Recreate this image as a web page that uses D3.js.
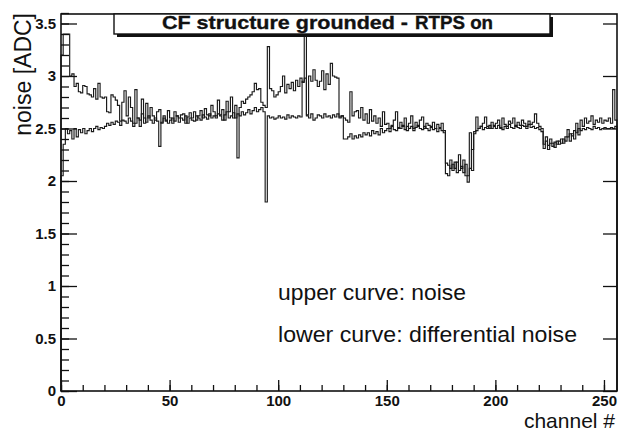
<!DOCTYPE html>
<html><head><meta charset="utf-8">
<script src="https://cdn.jsdelivr.net/npm/d3@7"></script>
<style>
body{margin:0;background:#fff;}
svg{display:block;}
text{font-family:"Liberation Sans",Arial,Helvetica,sans-serif;fill:#111;}
</style></head>
<body>
<svg id="chart" width="619" height="431"></svg>
<script>
// ---- data ----
const channels = d3.range(256);
const xTicksMajor = [0, 50, 100, 150, 200, 250];
const yTicksMajor = [0, 0.5, 1, 1.5, 2, 2.5, 3, 3.5];
const yTickLabels = ["0", "0.5", "1", "1.5", "2", "2.5", "3", "3.5"];
const titleMain = "CF structure grounded -";
const titleSub = "RTPS on";
const xTitle = "channel #";
const yTitle = "noise [ADC]";
const note1 = "upper curve: noise";
const note2 = "lower curve: differential noise";

// upper curve: noise per channel
const noise = [
3.20,3.40,3.40,3.40,3.00,3.02,2.90,2.93,2.85,2.84,
2.91,2.90,2.83,2.82,2.80,2.88,2.78,2.93,2.80,2.79,
2.80,2.66,2.65,2.82,2.80,2.77,2.72,2.57,2.75,2.86,
2.62,2.80,2.70,2.55,2.87,2.60,2.52,2.78,2.55,2.74,
2.60,2.70,2.62,2.58,2.66,2.68,2.55,2.62,2.57,2.67,
2.60,2.55,2.66,2.62,2.60,2.63,2.64,2.55,2.61,2.65,
2.60,2.66,2.58,2.62,2.67,2.60,2.69,2.63,2.62,2.72,
2.66,2.62,2.77,2.63,2.68,2.58,2.76,2.66,2.80,2.60,
2.72,2.22,2.70,2.76,2.74,2.78,2.80,2.82,2.85,2.93,
2.87,2.88,2.75,2.72,2.70,3.28,2.88,2.86,2.80,2.82,
2.85,2.90,3.00,2.84,2.92,2.88,2.94,2.86,2.96,2.90,
2.98,2.94,3.42,2.63,3.00,2.95,3.06,2.96,2.90,2.95,
3.05,2.87,3.02,2.92,3.12,3.00,2.99,2.98,2.61,2.62,
2.60,2.58,2.56,2.85,2.62,2.66,2.67,2.60,2.70,2.58,
2.64,2.55,2.68,2.57,2.62,2.55,2.60,2.52,2.66,2.54,
2.55,2.50,2.53,2.58,2.66,2.50,2.56,2.52,2.60,2.48,
2.55,2.62,2.50,2.56,2.52,2.58,2.61,2.50,2.55,2.53,
2.52,2.56,2.50,2.54,2.51,2.55,2.48,2.07,2.05,2.20,
2.10,2.18,2.08,2.25,2.12,2.20,2.05,1.99,2.46,2.10,
2.47,2.61,2.50,2.52,2.55,2.61,2.52,2.50,2.56,2.53,
2.55,2.58,2.50,2.60,2.54,2.52,2.57,2.55,2.60,2.52,
2.56,2.53,2.58,2.55,2.52,2.57,2.54,2.56,2.64,2.55,
2.52,2.50,2.31,2.42,2.30,2.40,2.36,2.32,2.38,2.35,
2.40,2.36,2.42,2.49,2.38,2.45,2.40,2.55,2.44,2.58,
2.52,2.60,2.55,2.57,2.62,2.54,2.58,2.56,2.60,2.55,
2.58,2.57,2.60,2.55,2.87,2.58];

// lower curve: differential noise per channel
const diffNoise = [
2.05,2.35,2.50,2.45,2.48,2.40,2.50,2.42,2.49,2.46,
2.50,2.45,2.48,2.50,2.47,2.50,2.52,2.49,2.51,2.50,
2.52,2.55,2.53,2.56,2.54,2.57,2.56,2.53,2.58,2.57,
2.55,2.60,2.57,2.52,2.55,2.60,2.58,2.64,2.60,2.56,
2.62,2.58,2.55,2.60,2.57,2.33,2.56,2.60,2.58,2.55,
2.58,2.60,2.57,2.62,2.56,2.60,2.58,2.62,2.55,2.60,
2.58,2.57,2.62,2.60,2.58,2.63,2.61,2.59,2.64,2.60,
2.62,2.60,2.64,2.62,2.58,2.63,2.66,2.60,2.62,2.65,
2.60,2.64,2.62,2.66,2.63,2.65,2.68,2.64,2.67,2.70,
2.66,2.68,2.70,2.66,1.80,2.62,2.60,2.61,2.59,2.60,
2.62,2.60,2.61,2.59,2.63,2.60,2.62,2.61,2.60,2.62,
2.61,2.95,2.98,2.62,2.60,2.64,2.58,2.60,2.63,2.62,
2.60,2.64,2.61,2.62,2.60,2.63,2.61,2.64,2.60,2.62,
2.40,2.40,2.42,2.45,2.40,2.43,2.41,2.44,2.42,2.46,
2.44,2.46,2.43,2.48,2.45,2.47,2.44,2.50,2.46,2.48,
2.50,2.47,2.52,2.49,2.48,2.51,2.50,2.53,2.49,2.52,
2.50,2.52,2.48,2.51,2.53,2.50,2.49,2.52,2.50,2.48,
2.51,2.49,2.50,2.47,2.50,2.48,2.46,2.17,2.15,2.12,
2.16,2.12,2.18,2.10,2.14,2.08,2.16,2.05,2.12,2.30,
2.45,2.48,2.50,2.52,2.49,2.51,2.50,2.53,2.50,2.52,
2.50,2.53,2.51,2.49,2.52,2.50,2.54,2.51,2.50,2.53,
2.51,2.50,2.53,2.52,2.50,2.54,2.51,2.52,2.50,2.51,
2.49,2.47,2.35,2.38,2.34,2.36,2.33,2.37,2.35,2.38,
2.36,2.40,2.38,2.42,2.45,2.43,2.48,2.46,2.50,2.48,
2.50,2.49,2.51,2.50,2.49,2.52,2.50,2.51,2.49,2.50,
2.51,2.50,2.50,2.51,2.50,2.52];

// ---- layout ----
const L = 61, R = 617, T = 13, B = 391;
const svg = d3.select("#chart");
const x = d3.scaleLinear().domain([0, 256]).range([L, R]);
const y = d3.scaleLinear().domain([0, 3.6]).range([B, T]);

// histograms (step outline, ROOT style, starting and ending on baseline)
function stepPoints(vals) {
  const pts = [[0, 0]];
  vals.forEach((v, i) => pts.push([channels[i], v]));
  pts.push([256, vals[vals.length - 1]]);
  pts.push([256, 0]);
  return pts;
}
const line = d3.line().x(d => x(d[0])).y(d => y(d[1])).curve(d3.curveStepAfter);
[diffNoise, noise].forEach(vals => {
  svg.append("path").attr("d", line(stepPoints(vals)))
    .attr("fill", "none").attr("stroke", "#1a1a1a").attr("stroke-width", 1.15);
});

// axes
const yMinor = d3.range(0, 3.61, 0.1).map(v => +v.toFixed(2));
const xMinor = d3.range(0, 257, 10);

function styleAxis(g) {
  g.select(".domain").remove();
  g.selectAll("line").attr("stroke", "#111").attr("stroke-width", 1.3);
  g.selectAll("text").style("font-size", "15px").style("font-weight", "bold")
    .style("font-family", '"Liberation Sans",Arial,Helvetica,sans-serif').attr("fill", "#111");
}

svg.append("g").attr("transform", `translate(${L},0)`)
  .call(d3.axisLeft(y).tickValues(yMinor).tickSize(-8).tickFormat(""))
  .call(styleAxis);
svg.append("g").attr("transform", `translate(${L},0)`)
  .call(d3.axisLeft(y).tickValues(yTicksMajor).tickSize(-16).tickPadding(5)
    .tickFormat((d, i) => yTickLabels[i]))
  .call(styleAxis);
svg.append("g").attr("transform", `translate(${R},0)`)
  .call(d3.axisRight(y).tickValues(yTicksMajor).tickSize(-14).tickFormat(""))
  .call(styleAxis);
svg.append("g").attr("transform", `translate(0,${B})`)
  .call(d3.axisBottom(x).tickValues(xMinor).tickSize(-6).tickFormat(""))
  .call(styleAxis);
svg.append("g").attr("transform", `translate(0,${B})`)
  .call(d3.axisBottom(x).tickValues(xTicksMajor).tickSize(-11).tickPadding(4)
    .tickFormat(d3.format("d")))
  .call(styleAxis);

// frame
svg.append("rect").attr("x", L).attr("y", T + 1).attr("width", R - L).attr("height", B - T - 1)
  .attr("fill", "none").attr("stroke", "#111").attr("stroke-width", 1.6);

// title box with shadow
const bx = 114, by = 14, bw = 436, bh = 20;
svg.append("rect").attr("x", bx + 3).attr("y", by + 3).attr("width", bw).attr("height", bh).attr("fill", "#111");
svg.append("rect").attr("x", bx).attr("y", by).attr("width", bw).attr("height", bh)
  .attr("fill", "#fff").attr("stroke", "#111").attr("stroke-width", 1.4);
const tt = svg.append("text").attr("y", 29).style("font-weight", "bold")
  .attr("stroke", "#111").attr("stroke-width", 0.35);
tt.append("tspan").attr("x", 162).style("font-size", "19px").attr("textLength", 246)
  .attr("lengthAdjust", "spacingAndGlyphs").text(titleMain);
tt.append("tspan").attr("x", 415).style("font-size", "18px").attr("textLength", 78)
  .attr("lengthAdjust", "spacingAndGlyphs").text(titleSub);

// axis titles
svg.append("text").attr("transform", "translate(31,13) rotate(-90)")
  .attr("text-anchor", "end").style("font-size", "23px").text(yTitle);
svg.append("text").attr("x", 615).attr("y", 428).attr("text-anchor", "end")
  .style("font-size", "21px").text(xTitle);

// annotations
svg.append("text").attr("x", 278).attr("y", 300).style("font-size", "22px")
  .attr("textLength", 188).attr("lengthAdjust", "spacingAndGlyphs").text(note1);
svg.append("text").attr("x", 278).attr("y", 342).style("font-size", "22px")
  .attr("textLength", 299).attr("lengthAdjust", "spacingAndGlyphs").text(note2);
</script>
</body></html>
